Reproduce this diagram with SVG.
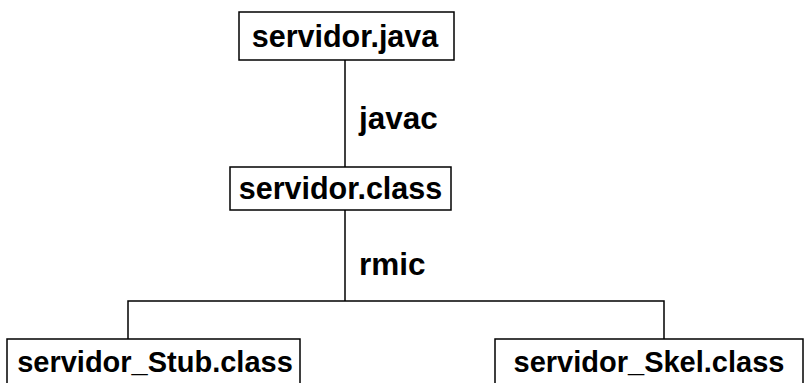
<svg xmlns="http://www.w3.org/2000/svg" width="807" height="383" viewBox="0 0 807 383">
<style>
.box{fill:#fff;stroke:#000;stroke-width:1.5}
.lbl{font-family:"Liberation Sans",Arial,sans-serif;font-weight:bold;font-size:29px;fill:#000}
.big{font-size:30.5px}
.edge{font-size:31.5px}
.con{fill:none;stroke:#000;stroke-width:1.5}
</style>
<rect width="807" height="383" fill="#fff"/>
<g id="connectors">
<path class="con" d="M345,60 V167"/>
<path class="con" d="M345,210 V301"/>
<path class="con" d="M128,339 V301 H664 V339"/>
<text class="lbl edge" x="359" y="129">javac</text>
<text class="lbl edge" x="359" y="275">rmic</text>
</g>
<g id="servidor_java">
<rect class="box" x="239" y="12" width="215" height="48"/>
<text class="lbl big" x="345" y="47" text-anchor="middle">servidor.java</text>
</g>
<g id="servidor_class">
<rect class="box" x="230" y="167" width="221" height="43"/>
<text class="lbl big" x="340.5" y="199" text-anchor="middle">servidor.class</text>
</g>
<g id="servidor_stub">
<rect class="box" x="7" y="339" width="293" height="50"/>
<text class="lbl" x="155" y="372" text-anchor="middle">servidor_Stub.class</text>
</g>
<g id="servidor_skel">
<rect class="box" x="495" y="339" width="308" height="50"/>
<text class="lbl" x="649" y="372" text-anchor="middle">servidor_Skel.class</text>
</g>
</svg>
